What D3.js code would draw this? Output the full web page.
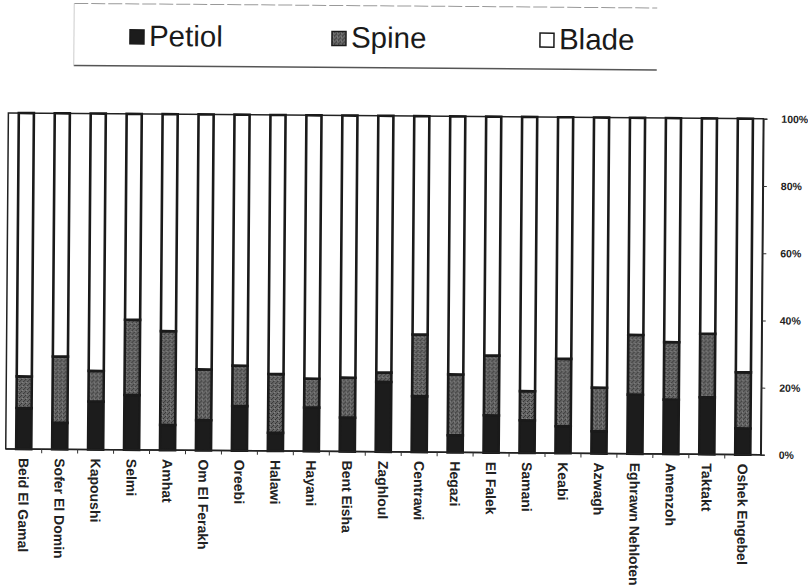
<!DOCTYPE html>
<html>
<head>
<meta charset="utf-8">
<script src="https://cdn.jsdelivr.net/npm/d3@7"></script>
<style>
  html, body { margin: 0; padding: 0; background: #fff; }
  svg { display: block; }
</style>
</head>
<body>
<div id="chart"></div>
<script>
// Leaf part proportions (%) for each date palm cultivar
const categories = ["Beid El Gamal", "Sofer El Domin", "Kapoushi", "Selmi", "Amhat", "Om El Ferakh",
  "Oreebi", "Halawi", "Hayani", "Bent Eisha", "Zaghloul", "Centrawi", "Hegazi", "El Falek",
  "Samani", "Keabi", "Azwagh", "Eghrawn Nehloten", "Amenzoh", "Taktakt", "Oshek Engebel"];
const petiol = [12.2, 7.9, 14.3, 16.3, 7.5, 9.0, 13.3, 5.4, 13.0, 10.1, 20.8, 16.6, 5.1, 11.1, 9.7, 8.0, 6.6, 17.6, 16.2, 17.0, 7.8];
const spine  = [9.4, 19.7, 9.1, 22.4, 27.9, 15.1, 12.0, 17.5, 8.6, 11.9, 2.8, 18.4, 18.1, 17.8, 8.7, 20.1, 13.0, 17.8, 17.1, 18.9, 16.7];
const blade  = [78.4, 72.4, 76.6, 61.3, 64.6, 75.9, 74.7, 77.1, 78.4, 78.0, 76.4, 65.0, 76.8, 71.1, 81.6, 71.9, 80.4, 64.6, 66.7, 64.1, 75.5];
const seriesNames = ["Petiol", "Spine", "Blade"];
const tickValues = [0, 0.2, 0.4, 0.6, 0.8, 1];

const W = 808, H = 587;
const plot = { left: 7, right: 762, top: 116, bottom: 452 };

const rows = categories.map((c, i) => ({ name: c, Petiol: petiol[i], Spine: spine[i], Blade: blade[i] }));
const stacked = d3.stack().keys(seriesNames).offset(d3.stackOffsetExpand)(rows);

const svg = d3.select("#chart").append("svg")
  .attr("width", W).attr("height", H)
  .attr("font-family", "'Liberation Sans', Arial, sans-serif");

// speckled grey fill for the spine segments
const defs = svg.append("defs");
const pat = defs.append("pattern").attr("id", "spineFill")
  .attr("width", 4).attr("height", 4).attr("patternUnits", "userSpaceOnUse");
pat.append("rect").attr("width", 4).attr("height", 4).attr("fill", "#666");
pat.append("rect").attr("x", 0).attr("y", 0).attr("width", 1).attr("height", 1).attr("fill", "#2e2e2e");
pat.append("rect").attr("x", 2).attr("y", 2).attr("width", 1).attr("height", 1).attr("fill", "#2e2e2e");
pat.append("rect").attr("x", 1).attr("y", 3).attr("width", 1).attr("height", 1).attr("fill", "#3a3a3a");
pat.append("rect").attr("x", 3).attr("y", 1).attr("width", 1).attr("height", 1).attr("fill", "#8a8a8a");

const fills = { Petiol: "#1c1c1c", Spine: "url(#spineFill)", Blade: "#ffffff" };

// the whole sheet sits very slightly turned
const root = svg.append("g").attr("transform", "rotate(0.45,404,290)");

const x = d3.scaleBand().domain(categories)
  .range([plot.left, plot.right]).paddingInner(0.58).paddingOuter(0.29);
const y = d3.scaleLinear().domain([0, 1]).range([plot.bottom, plot.top]);

// plot frame
root.append("rect")
  .attr("x", plot.left).attr("y", plot.top)
  .attr("width", plot.right - plot.left).attr("height", plot.bottom - plot.top)
  .attr("fill", "none").attr("stroke", "#222").attr("stroke-width", 1.5);

// stacked bars
root.append("g").selectAll("g").data(stacked).join("g")
  .attr("fill", d => fills[d.key])
  .selectAll("rect").data(d => d).join("rect")
  .attr("x", d => x(d.data.name))
  .attr("width", x.bandwidth())
  .attr("y", d => y(d[1]))
  .attr("height", d => y(d[0]) - y(d[1]))
  .attr("stroke", "#1a1a1a").attr("stroke-width", 2.6);

// right percentage axis
const yAxis = root.append("g")
  .attr("transform", `translate(${plot.right},0)`)
  .call(d3.axisRight(y).tickValues(tickValues).tickFormat(d3.format(".0%")).tickSize(4).tickPadding(14));
yAxis.select(".domain").attr("stroke", "#222").attr("stroke-width", 1.5);
yAxis.selectAll(".tick line").attr("stroke", "#333");
yAxis.selectAll("text").attr("font-size", 10.5).attr("font-weight", "bold").attr("fill", "#222");

// category axis with ticks between bars
const xAxis = root.append("g").attr("transform", `translate(0,${plot.bottom})`);
xAxis.append("line").attr("x1", plot.left).attr("x2", plot.right)
  .attr("stroke", "#222").attr("stroke-width", 1.5);
const step = x.step();
xAxis.selectAll("line.sep").data(categories.slice(1)).join("line").attr("class", "sep")
  .attr("x1", d => x(d) - (step - x.bandwidth()) / 2)
  .attr("x2", d => x(d) - (step - x.bandwidth()) / 2)
  .attr("y1", 0).attr("y2", 4).attr("stroke", "#333");
xAxis.selectAll("text").data(categories).join("text")
  .attr("transform", d => `translate(${x(d) + x.bandwidth() / 2},9) rotate(90)`)
  .attr("dy", "0.35em")
  .attr("font-size", 14).attr("font-weight", "bold").attr("fill", "#222")
  .text(d => d);

// legend
const lg = root.append("g");
lg.append("line").attr("x1", 72).attr("x2", 655).attr("y1", 6).attr("y2", 6)
  .attr("stroke", "#999").attr("stroke-width", 1).attr("stroke-dasharray", "14,3");
lg.append("line").attr("x1", 72).attr("x2", 655).attr("y1", 68).attr("y2", 68)
  .attr("stroke", "#555").attr("stroke-width", 1.5);
lg.append("line").attr("x1", 72).attr("x2", 72).attr("y1", 6).attr("y2", 68)
  .attr("stroke", "#ccc").attr("stroke-width", 1);
const legendX = [128, 330, 538];
seriesNames.forEach((k, i) => {
  lg.append("rect").attr("x", legendX[i]).attr("y", 32).attr("width", 14).attr("height", 14)
    .attr("fill", fills[k]).attr("stroke", "#1a1a1a").attr("stroke-width", 1.5);
  lg.append("text").attr("x", legendX[i] + 19).attr("y", 48)
    .attr("font-size", 29.5).attr("fill", "#1a1a1a").text(k);
});
</script>
</body>
</html>
